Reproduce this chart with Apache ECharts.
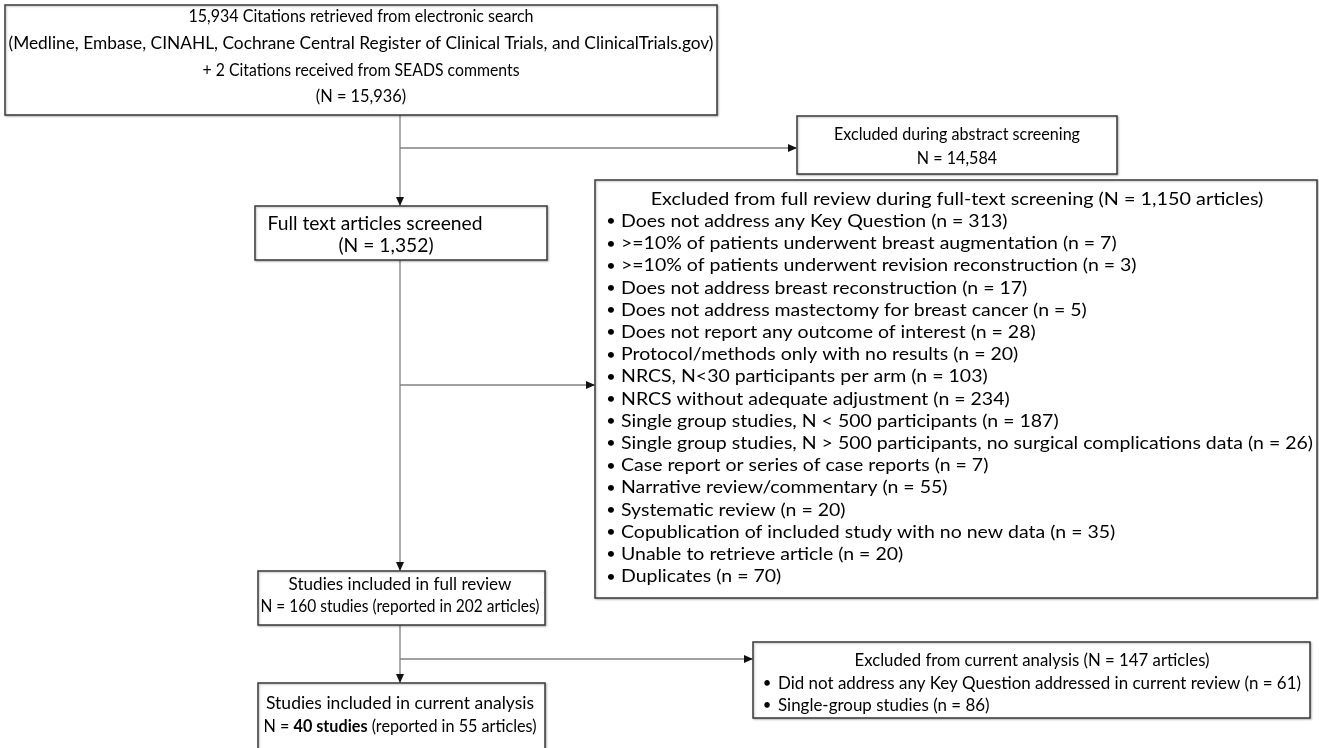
<!DOCTYPE html>
<html><head><meta charset="utf-8">
<style>html,body{margin:0;padding:0;background:#fff}#c{width:1319px;height:748px}</style>
<script src="https://cdn.jsdelivr.net/npm/echarts@6/dist/echarts.min.js"></script>
</head><body><div id="c"></div>
<script>
// ---------------- data ----------------
const searchLines = [
  '15,934 Citations retrieved from electronic search',
  '(Medline, Embase, CINAHL, Cochrane Central Register of Clinical Trials, and ClinicalTrials.gov)',
  '+ 2 Citations received from SEADS comments',
  '(N = 15,936)'
];
const abstractExclLines = ['Excluded during abstract screening', 'N = 14,584'];
const screenedLines = ['Full text articles screened', '(N = 1,352)'];
const fullExclTitle = 'Excluded from full review during full-text screening (N = 1,150 articles)';
const fullExclReasons = [
  'Does not address any Key Question',
  '>=10% of patients underwent breast augmentation',
  '>=10% of patients underwent revision reconstruction',
  'Does not address breast reconstruction',
  'Does not address mastectomy for breast cancer',
  'Does not report any outcome of interest',
  'Protocol/methods only with no results',
  'NRCS, N<30 participants per arm',
  'NRCS without adequate adjustment',
  'Single group studies, N < 500 participants',
  'Single group studies, N > 500 participants, no surgical complications data',
  'Case report or series of case reports',
  'Narrative review/commentary',
  'Systematic review',
  'Copublication of included study with no new data',
  'Unable to retrieve article',
  'Duplicates'
];
const fullExclCounts = [313, 7, 3, 17, 5, 28, 20, 103, 234, 187, 26, 7, 55, 20, 35, 20, 70];
const fullReviewLines = ['Studies included in full review', 'N = 160 studies (reported in 202 articles)'];
const currentExclTitle = 'Excluded from current analysis (N = 147 articles)';
const currentExclReasons = ['Did not address any Key Question addressed in current review', 'Single-group studies'];
const currentExclCounts = [61, 86];
const finalTitle = 'Studies included in current analysis';
const finalStudies = 40;
const finalArticles = 55;

// ---------------- layout ----------------
const FONT = 'Lato, "Open Sans", sans-serif';
const TXT = '#000';
const BOX_STROKE = '#3a3a3a';
const LINE = '#808080';

// size = glyph size; tw = target rendered widths (null -> box default squeeze)
const L = {
  search:   {x: 5,   y: 5,   w: 712, h: 110, cx: 361, y0: 17,  dy: 26.7, size: 16.5, tw: [345, 705, 317, null]},
  abstract: {x: 797, y: 116, w: 320, h: 58,  cx: 957, y0: 135, dy: 24,   size: 16.5, tw: [246, null]},
  screened: {x: 255, y: 206, w: 292, h: 54,  cxs: [375, 386], y0: 224, dy: 22, size: 18.5, tw: [215, null]},
  fullExcl: {x: 595, y: 180, w: 722, h: 418, cx: 957, y0: 199, dy: 22.2, bx: 611, tx: 621, size: 18, titleW: 625, widestW: 692},
  fullRev:  {x: 258, y: 571, w: 287, h: 54,  cx: 400, y0: 585, dy: 21.5, size: 16.5, tw: [223, 279]},
  curExcl:  {x: 753, y: 642, w: 557, h: 76,  cx: 1032, y0: 661, dy: 22.2, bx: 767, tx: 778, size: 16.5, titleW: 355, widestW: 523},
  final:    {x: 258, y: 683, w: 287, h: 80,  cx: 400, y0: 704, dy: 23, size: 16.5, tw: [268, 273]},
  spineX: 400,
  branch1Y: 148, branch2Y: 385, branch3Y: 659
};

const ctx = document.createElement('canvas').getContext('2d');
function measure(t, size, weight) {
  ctx.font = (weight || 'normal') + ' ' + size + 'px ' + FONT;
  const w = ctx.measureText(t).width;
  return w > 0 ? w : t.length * size * 0.45;
}
function clampS(s) { return Math.max(0.8, Math.min(1.1, s)); }

const els = [];
function box(b) {
  els.push({type: 'rect', shape: {x: b.x, y: b.y, width: b.w, height: b.h},
    style: {fill: '#fff', stroke: BOX_STROKE, lineWidth: 1.5,
      shadowColor: 'rgba(0,0,0,0.25)', shadowBlur: 2, shadowOffsetX: 1, shadowOffsetY: 1}, z: 2});
}
function text(t, x, y, align, size, sx, extra) {
  els.push({type: 'text', z: 3, x: x, y: y, scaleX: sx || 1,
    style: Object.assign({text: t, x: 0, y: 0, fill: TXT,
      fontSize: size, fontFamily: FONT, textAlign: align || 'center', textVerticalAlign: 'middle'}, extra || {})});
}
function line(x1, y1, x2, y2) {
  els.push({type: 'line', z: 1, shape: {x1, y1, x2, y2}, style: {stroke: LINE, lineWidth: 1.3}});
}
function arrowDown(x, yTip) {
  els.push({type: 'polygon', z: 4, shape: {points: [[x - 4, yTip - 9], [x + 4, yTip - 9], [x, yTip]]}, style: {fill: '#111'}});
}
function arrowRight(xTip, y) {
  els.push({type: 'polygon', z: 4, shape: {points: [[xTip - 9, y - 4], [xTip - 9, y + 4], [xTip, y]]}, style: {fill: '#111'}});
}
// centred multi-line box: per-line squeeze to target widths
function centredLines(lines, b, cxs) {
  const scales = lines.map((t, i) => b.tw[i] ? clampS(b.tw[i] / measure(t, b.size)) : null);
  const known = scales.filter(s => s !== null);
  const avg = known.reduce((a, c) => a + c, 0) / Math.max(1, known.length);
  lines.forEach((t, i) => text(t, cxs ? cxs[i] : b.cx, b.y0 + i * b.dy, 'center', b.size, scales[i] === null ? avg : scales[i]));
}
function bulletBox(title, reasons, counts, b) {
  const items = reasons.map((r, i) => r + ' (n = ' + counts[i] + ')');
  const widest = Math.max.apply(null, items.map(t => measure(t, b.size)));
  const sItems = clampS(b.widestW / widest);
  const sTitle = clampS(b.titleW / measure(title, b.size));
  text(title, b.cx, b.y0, 'center', b.size, sTitle);
  items.forEach((t, i) => {
    const y = b.y0 + (i + 1) * b.dy;
    text('•', b.bx, y, 'center', b.size * 0.9, 1);
    text(t, b.tx, y, 'left', b.size, sItems);
  });
}

// boxes & text
box(L.search);   centredLines(searchLines, L.search);
box(L.abstract); centredLines(abstractExclLines, L.abstract);
box(L.screened); centredLines(screenedLines, L.screened, L.screened.cxs);
box(L.fullExcl); bulletBox(fullExclTitle, fullExclReasons, fullExclCounts, L.fullExcl);
box(L.fullRev);  centredLines(fullReviewLines, L.fullRev);
box(L.curExcl);  bulletBox(currentExclTitle, currentExclReasons, currentExclCounts, L.curExcl);

box(L.final);
{
  const b = L.final;
  text(finalTitle, b.cx, b.y0, 'center', b.size, clampS(b.tw[0] / measure(finalTitle, b.size)));
  const pA = 'N = ', pB = finalStudies + ' studies', pC = ' (reported in ' + finalArticles + ' articles)';
  const wAll = measure(pA, b.size) + measure(pB, b.size, 'bold') + measure(pC, b.size);
  text('{a|' + pA + '}{b|' + pB + '}{a|' + pC + '}', b.cx, b.y0 + b.dy, 'center', b.size,
    clampS(b.tw[1] / wAll), {
      rich: {
        a: {fontSize: b.size, fontFamily: FONT, fill: TXT},
        b: {fontSize: b.size, fontFamily: FONT, fill: TXT, fontWeight: 'bold'}
      }
    });
}

// connectors
const sx = L.spineX;
line(sx, L.search.y + L.search.h, sx, L.screened.y - 1);
arrowDown(sx, L.screened.y);
line(sx, L.branch1Y, L.abstract.x - 1, L.branch1Y);
arrowRight(L.abstract.x, L.branch1Y);

line(sx, L.screened.y + L.screened.h, sx, L.fullRev.y - 1);
arrowDown(sx, L.fullRev.y);
line(sx, L.branch2Y, L.fullExcl.x - 1, L.branch2Y);
arrowRight(L.fullExcl.x, L.branch2Y);

line(sx, L.fullRev.y + L.fullRev.h, sx, L.final.y - 1);
arrowDown(sx, L.final.y);
line(sx, L.branch3Y, L.curExcl.x - 1, L.branch3Y);
arrowRight(L.curExcl.x, L.branch3Y);

const chart = echarts.init(document.getElementById('c'), null, {renderer: 'canvas'});
chart.setOption({animation: false, backgroundColor: '#fff', graphic: {elements: els}});
</script></body></html>
